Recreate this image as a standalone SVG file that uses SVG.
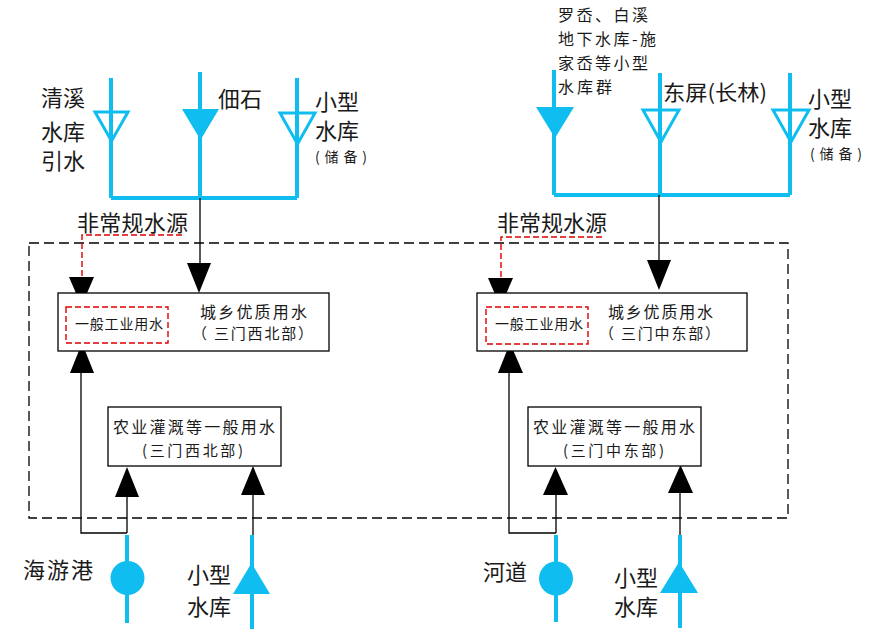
<svg xmlns="http://www.w3.org/2000/svg" width="882" height="633" viewBox="0 0 882 633">
<style>
text{font-family:"Noto Sans CJK SC","Noto Sans",sans-serif;fill:#1a1a1a}
.t23{font-size:22px}.t17{font-size:16px}.t14{font-size:14px}.t13{font-size:14px}.t16{font-size:15px}
.blue{stroke:#10BDF0;stroke-width:4;fill:none}
.bopen{stroke:#10BDF0;stroke-width:3;fill:none;stroke-linejoin:miter}
.bfill{fill:#10BDF0;stroke:none}
.blk{stroke:#000;stroke-width:1.3;fill:none}
.arr{fill:#000}
.red{stroke:#e00000;stroke-width:1.4;fill:none;stroke-dasharray:6,3}
.box{fill:#fff;stroke:#000;stroke-width:1.3}
.outer{fill:none;stroke:#000;stroke-width:1.3;stroke-dasharray:10,5}
</style>
<rect width="882" height="633" fill="#fff"/>
<g id="region">
<rect class="outer" x="29" y="243" width="759" height="275"/>
</g>
<g id="connectors">
<path class="blue" d="M111,78V198M200,72V198M297,78V198M111,198H297"/>
<polygon class="bopen" points="95,112 128,112 111.5,141"/>
<polygon class="bfill" points="182,109 219,109 200.5,140"/>
<polygon class="bopen" points="280,113 315,113 297.5,144"/>
<path class="blue" d="M554,70V195M660,73V195M790,73V195M554,195H790"/>
<polygon class="bfill" points="536,107 574,107 555,138"/>
<polygon class="bopen" points="643,110 679,110 661,142"/>
<polygon class="bopen" points="773,110 809,110 791,142"/>
<path class="blk" d="M200,198V264"/>
<polygon class="arr" points="187,263 211,263 199,293"/>
<path class="blk" d="M659,195V261"/>
<polygon class="arr" points="647,260 671,260 659,290"/>
<path class="red" d="M182,235H82V277"/>
<polygon class="arr" points="69,277 94,277 81.5,306"/>
<path class="red" d="M602,237H501V278"/>
<polygon class="arr" points="488,278 513,278 500.5,307"/>
<path class="blk" d="M127,533H81V373M127,497V533"/>
<polygon class="arr" points="70,373 94,373 82,343"/>
<polygon class="arr" points="115,497 139,497 127,467"/>
<path class="blue" d="M127,535V623"/>
<circle class="bfill" cx="127.5" cy="578" r="17"/>
<path class="blk" d="M253,495V535"/>
<polygon class="arr" points="241,495 265,495 253,466"/>
<path class="blue" d="M252,535V629"/>
<polygon class="bfill" points="233,594 270,594 251.5,563"/>
<path class="blk" d="M556,533H509V373M556,495V533"/>
<polygon class="arr" points="498,373 523,373 510,343"/>
<polygon class="arr" points="543,495 568,495 555.5,467"/>
<path class="blue" d="M556,535V622"/>
<circle class="bfill" cx="556" cy="578.5" r="17"/>
<path class="blk" d="M680,493V535"/>
<polygon class="arr" points="668,493 693,493 680.5,465"/>
<path class="blue" d="M680,535V628"/>
<polygon class="bfill" points="660,593 698,593 679,562"/>
</g>
<g id="src-qingxi">
<text class="t23" x="41" y="106">清溪</text>
<text class="t23" x="41" y="140">水库</text>
<text class="t23" x="41" y="169">引水</text>
</g>
<g id="src-tianshi"><text class="t23" x="218" y="107">佃石</text></g>
<g id="src-small-left">
<text class="t23" x="315" y="110">小型</text>
<text class="t23" x="315" y="139">水库</text>
<text class="t13" x="315" y="162" textLength="52" lengthAdjust="spacing">(储备)</text>
</g>
<g id="src-luoao">
<text class="t17" x="558" y="21" textLength="90" lengthAdjust="spacing">罗岙、白溪</text>
<text class="t17" x="558" y="45" textLength="98" lengthAdjust="spacing">地下水库-施</text>
<text class="t17" x="558" y="69" textLength="90" lengthAdjust="spacing">家岙等小型</text>
<text class="t17" x="558" y="93" textLength="54" lengthAdjust="spacing">水库群</text>
</g>
<g id="src-dongping"><text style="font-size:21px" x="663" y="100" textLength="104" lengthAdjust="spacingAndGlyphs">东屏(长林)</text></g>
<g id="src-small-right">
<text class="t23" x="808" y="107">小型</text>
<text class="t23" x="808" y="136">水库</text>
<text class="t13" x="810" y="159" textLength="52" lengthAdjust="spacing">(储备)</text>
</g>
<g id="nonconv-left"><text class="t23" x="77" y="231" textLength="111" lengthAdjust="spacing">非常规水源</text></g>
<g id="nonconv-right"><text class="t23" x="497" y="231" textLength="110" lengthAdjust="spacing">非常规水源</text></g>
<g id="quality-left">
<rect class="box" x="58" y="293" width="271" height="58"/>
<text class="t17" x="200" y="318" textLength="107" lengthAdjust="spacing">城乡优质用水</text>
<text class="t16" x="192" y="339" textLength="121" lengthAdjust="spacing">（ 三门西北部）</text>
</g>
<g id="industry-left">
<rect class="red" x="66" y="307" width="102" height="36"/>
<text class="t14" x="75" y="329" textLength="88" lengthAdjust="spacing">一般工业用水</text>
</g>
<g id="quality-right">
<rect class="box" x="477" y="293" width="270" height="58"/>
<text class="t17" x="608" y="318" textLength="105" lengthAdjust="spacing">城乡优质用水</text>
<text class="t16" x="599" y="339" textLength="121" lengthAdjust="spacing">（ 三门中东部）</text>
</g>
<g id="industry-right">
<rect class="red" x="486" y="307" width="102" height="37"/>
<text class="t14" x="495" y="329" textLength="88" lengthAdjust="spacing">一般工业用水</text>
</g>
<g id="agri-left">
<rect class="box" x="108" y="407" width="173" height="59"/>
<text class="t17" x="113" y="433" textLength="162" lengthAdjust="spacing">农业灌溉等一般用水</text>
<text class="t16" x="142" y="456" textLength="101" lengthAdjust="spacing">(三门西北部)</text>
</g>
<g id="agri-right">
<rect class="box" x="528" y="407" width="173" height="59"/>
<text class="t17" x="533" y="433" textLength="162" lengthAdjust="spacing">农业灌溉等一般用水</text>
<text class="t16" x="563" y="456" textLength="101" lengthAdjust="spacing">(三门中东部)</text>
</g>
<g id="src-haiyou"><text class="t23" x="23" y="578" textLength="70" lengthAdjust="spacing">海游港</text></g>
<g id="src-small-bl">
<text class="t23" x="187" y="583">小型</text>
<text class="t23" x="187" y="615">水库</text>
</g>
<g id="src-hedao"><text class="t23" x="483" y="580">河道</text></g>
<g id="src-small-br">
<text class="t23" x="614" y="586">小型</text>
<text class="t23" x="614" y="615">水库</text>
</g>
</svg>
